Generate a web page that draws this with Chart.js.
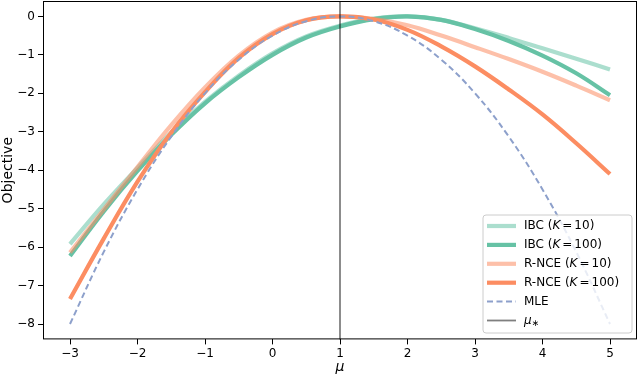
<!DOCTYPE html>
<html><head><meta charset="utf-8">
<script src="https://cdn.jsdelivr.net/npm/chart.js@4/dist/chart.umd.min.js"></script>
<style>html,body{margin:0;padding:0;background:#fff}#wrap{width:640px;height:376px}</style>
</head><body><div id="wrap"><canvas id="c" width="640" height="376"></canvas></div>
<script>
// ---- data ----
const mu = [-3,-2.5,-2,-1.5,-1,-0.5,0,0.5,1,1.5,2,2.5,3,3.5,4,4.5,5];
const ibcK10  = [-5.92,-4.89,-3.94,-3.02,-2.22,-1.54,-0.96,-0.52,-0.24,-0.06,0,-0.09,-0.31,-0.56,-0.83,-1.1,-1.38];
const ibcK100 = [-6.23,-5.07,-4.02,-3.08,-2.26,-1.58,-1.0,-0.55,-0.26,-0.07,0,-0.09,-0.33,-0.64,-1.02,-1.48,-2.05];
const rnceK10 = [-6.14,-5.02,-3.92,-2.83,-1.85,-1.02,-0.42,-0.09,0,-0.07,-0.23,-0.5,-0.8,-1.11,-1.44,-1.8,-2.18];
const rnceK100= [-7.35,-5.78,-4.3,-3.02,-1.97,-1.08,-0.46,-0.1,0,-0.08,-0.35,-0.78,-1.3,-1.9,-2.55,-3.3,-4.1];
const mle     = [-8,-6.125,-4.5,-3.125,-2,-1.125,-0.5,-0.125,0,-0.125,-0.5,-1.125,-2,-3.125,-4.5,-6.125,-8];
const muStar = 1;
const xTicks = [-3,-2,-1,0,1,2,3,4,5];
const yTicks = [0,-1,-2,-3,-4,-5,-6,-7,-8];
const seriesLabels = [["IBC","10"],["IBC","100"],["R-NCE","10"],["R-NCE","100"]];

const FONT = "DejaVu Sans";
const pts = ys => mu.map((x,i)=>({x:x,y:ys[i]}));
const fmt = v => (v<0 ? "\u2212"+Math.abs(v) : String(v));

const styles = [
  {color:"rgba(102,194,165,0.55)", w:4.2},
  {color:"#66c2a5", w:4.2},
  {color:"rgba(252,141,98,0.55)", w:4.2},
  {color:"#fc8d62", w:4.2}
];
const datasets = [ibcK10, ibcK100, rnceK10, rnceK100].map((d,i)=>({
  label: seriesLabels[i][0]+" (K = "+seriesLabels[i][1]+")",
  data: pts(d), borderColor: styles[i].color, borderWidth: styles[i].w,
  pointRadius:0, tension:0.4, fill:false, order: 10-i,
  borderCapStyle:'butt'
}));
datasets.push({label:"MLE", data: pts(mle), borderColor:"#8da0cb", borderWidth:2,
  borderDash:[6,3.5], pointRadius:0, tension:0.4, fill:false, order:2});

const overlay = {
  id:'overlay',
  afterDatasetsDraw(chart){
    const ctx = chart.ctx, a = chart.chartArea, xs = chart.scales.x;
    ctx.save();
    // mu* vertical line
    const px = xs.getPixelForValue(muStar);
    ctx.strokeStyle = "rgba(0,0,0,0.5)"; ctx.lineWidth = 1.8;
    ctx.beginPath(); ctx.moveTo(px, a.top); ctx.lineTo(px, a.bottom); ctx.stroke();
    // frame
    ctx.strokeStyle = "#000"; ctx.lineWidth = 1;
    ctx.strokeRect(a.left+0.5, a.top+0.5, a.right-a.left-1, a.bottom-a.top-1);
    // legend
    const bx = 483, by = 215, bw = 149, bh = 118, r = 3;
    ctx.beginPath();
    ctx.moveTo(bx+r,by); ctx.lineTo(bx+bw-r,by); ctx.quadraticCurveTo(bx+bw,by,bx+bw,by+r);
    ctx.lineTo(bx+bw,by+bh-r); ctx.quadraticCurveTo(bx+bw,by+bh,bx+bw-r,by+bh);
    ctx.lineTo(bx+r,by+bh); ctx.quadraticCurveTo(bx,by+bh,bx,by+bh-r);
    ctx.lineTo(bx,by+r); ctx.quadraticCurveTo(bx,by,bx+r,by); ctx.closePath();
    ctx.fillStyle = "rgba(255,255,255,0.8)"; ctx.fill();
    ctx.strokeStyle = "#cccccc"; ctx.lineWidth = 1; ctx.stroke();
    const x0 = 487, x1 = 516, tx = 524;
    const rowY = i => 226 + i*18.9;
    ctx.textBaseline = "middle"; ctx.fillStyle = "#000";
    const seg = (parts, x, y) => {
      parts.forEach(p => {
        ctx.font = (p.it ? "italic " : "") + (p.size||12) + "px '" + FONT + "'";
        ctx.fillText(p.t, x, y + (p.dy||0));
        x += ctx.measureText(p.t).width + (p.gap||0);
      });
    };
    for (let i=0;i<4;i++){
      const y = rowY(i);
      ctx.strokeStyle = styles[i].color; ctx.lineWidth = styles[i].w; ctx.setLineDash([]);
      ctx.beginPath(); ctx.moveTo(x0,y); ctx.lineTo(x1,y); ctx.stroke();
      seg([{t:seriesLabels[i][0]+" ("},{t:"K",it:true,gap:2},{t:"=",gap:2},{t:seriesLabels[i][1]+")"}], tx, y);
    }
    let y = rowY(4);
    ctx.strokeStyle = "#8da0cb"; ctx.lineWidth = 2; ctx.setLineDash([6,3.5]);
    ctx.beginPath(); ctx.moveTo(x0,y); ctx.lineTo(x1,y); ctx.stroke(); ctx.setLineDash([]);
    seg([{t:"MLE"}], tx, y);
    y = rowY(5);
    ctx.strokeStyle = "rgba(0,0,0,0.5)"; ctx.lineWidth = 1.8;
    ctx.beginPath(); ctx.moveTo(x0,y); ctx.lineTo(x1,y); ctx.stroke();
    seg([{t:"\u03bc",it:true},{t:"\u2217",size:9,dy:3}], tx, y);
    ctx.restore();
  }
};

new Chart(document.getElementById('c'), {
  type:'line',
  data:{datasets},
  options:{
    responsive:false, animation:false, devicePixelRatio:1,
    layout:{autoPadding:false, padding:{left:0,right:3,top:1,bottom:0}},
    plugins:{legend:{display:false}, tooltip:{enabled:false}},
    scales:{
      x:{type:'linear', min:-3.4, max:5.4,
        afterBuildTicks: s => { s.ticks = xTicks.map(v=>({value:v})); },
        afterFit: s => { s.height = 36.6; s.paddingLeft = 0; s.paddingRight = 0; },
        ticks:{color:'#000', font:{family:FONT,size:12}, padding:2, maxRotation:0, callback: v=>fmt(v)},
        grid:{drawOnChartArea:false, drawTicks:true, tickLength:5, color:'#000'},
        border:{display:false},
        title:{display:true, text:'\u03bc', color:'#000', font:{family:FONT,size:14,style:'italic'}, padding:{top:0,bottom:0}}
      },
      y:{type:'linear', min:-8.4, max:0.4,
        afterBuildTicks: s => { s.ticks = yTicks.map(v=>({value:v})); },
        afterFit: s => { s.width = 43; s.paddingTop = 0; s.paddingBottom = 0; },
        ticks:{color:'#000', font:{family:FONT,size:12}, padding:3, callback: v=>fmt(v)},
        grid:{drawOnChartArea:false, drawTicks:true, tickLength:5, color:'#000'},
        border:{display:false},
        title:{display:true, text:'Objective', color:'#000', font:{family:FONT,size:14}, padding:{top:0,bottom:0}}
      }
    }
  },
  plugins:[overlay]
});
</script></body></html>
